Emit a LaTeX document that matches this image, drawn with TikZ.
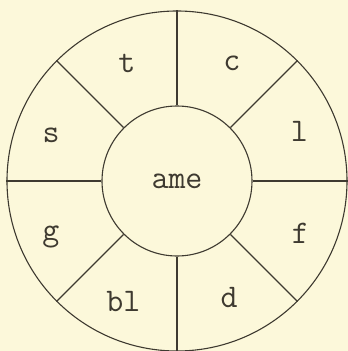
\documentclass[tikz,border=0pt]{standalone}
\usepackage{tikz}
\definecolor{paper}{HTML}{FCF8DA}
\definecolor{ink}{HTML}{3E3A30}
\tikzset{
  wheel/.style={draw=ink,line width=1.1pt},
  sector/.style={text=ink,font=\fontsize{33}{38}\selectfont\ttfamily,inner sep=0pt}
}

\begin{document}
\begin{tikzpicture}[x=1pt,y=1pt]
            \fill [paper] (-177,-170) rectangle (171,181);
            \useasboundingbox (-177,-170) rectangle (171,181);
            \node [wheel,circle,minimum size=340pt,inner sep=0pt] (rim) at (0,0) {};
            \node [wheel,circle,minimum size=150pt,inner sep=0pt] (hub) at (0,0) {};
            \node [sector] (ame) at (0,0) {ame};
            \draw [wheel] (hub.0) -- (rim.0);
            \draw [wheel] (hub.45) -- (rim.45);
            \draw [wheel] (hub.90) -- (rim.90);
            \draw [wheel] (hub.135) -- (rim.135);
            \draw [wheel] (hub.180) -- (rim.180);
            \draw [wheel] (hub.225) -- (rim.225);
            \draw [wheel] (hub.270) -- (rim.270);
            \draw [wheel] (hub.315) -- (rim.315);
            \node [sector] (l) at (22:132) {l};
            \node [sector] (c) at (65:130) {c};
            \node [sector] (t) at (113:128) {t};
            \node [sector] (s) at (160:134) {s};
            \node [sector] (g) at (204:138) {g};
            \node [sector] (bl) at (246:132) {bl};
            \node [sector] (d) at (294:128) {d};
            \node [sector] (f) at (337:134) {f};
        \end{tikzpicture}
\end{document}
